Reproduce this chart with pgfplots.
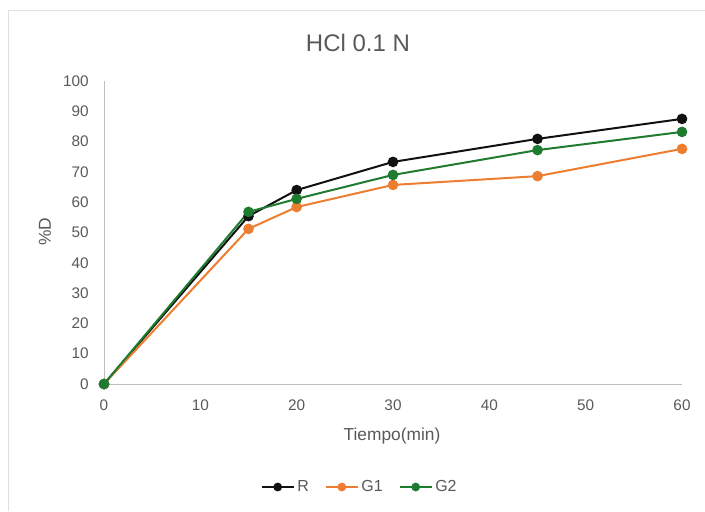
\documentclass[border=0pt]{standalone}
\usepackage{pgfplots}
\pgfplotsset{compat=1.18}
\usepackage{fontspec}
\setmainfont{Liberation Sans}
\definecolor{txt}{HTML}{595959}
\definecolor{axgray}{HTML}{BFBFBF}
\definecolor{cR}{HTML}{111111}
\definecolor{cG1}{HTML}{ED7D31}
\definecolor{cG2}{HTML}{1E7B30}
\begin{document}
\begin{tikzpicture}
\useasboundingbox (-78pt,-95.25pt) rectangle (450.75pt,288pt);
\draw[draw=gray!25, line width=0.6pt] (-72pt,-95.25pt) -- (-72pt,280.5pt) -- (450.75pt,280.5pt);
\begin{axis}[
  at={(0pt,0pt)}, anchor=origin,
  scale only axis, width=433.5pt, height=227.25pt,
  xmin=0, xmax=60, ymin=0, ymax=100,
  xtick={0,10,20,30,40,50,60},
  ytick={0,10,...,100},
  axis x line*=bottom, axis y line*=left,
  axis line style={draw=axgray, line width=0.6pt, -},
  major tick length=0pt,
  tick label style={font=\fontsize{11.5pt}{13pt}\selectfont, text=txt},
  /pgf/number format/assume math mode=true,
  yticklabel style={xshift=-8pt},
  xticklabel style={yshift=-8pt},
  clip=false,
  legend style={at={(0.443,-0.34)}, anchor=center, draw=none, legend columns=3,
    font=\fontsize{12pt}{14pt}\selectfont, text=txt,
    /tikz/every even column/.append style={column sep=10pt}},
  legend image code/.code={\draw[mark repeat=2,mark phase=2, mark size=2.5pt] plot coordinates {(0cm,0cm) (0.42cm,0cm) (0.84cm,0cm)};},
  every axis plot/.append style={line width=1.5pt, mark=*, mark size=3.2pt, mark options={solid}},
]
\addplot[color=cR] coordinates {(0,0) (15,55.4) (20,64.0) (30,73.3) (45,80.9) (60,87.5)};
\addplot[color=cG1] coordinates {(0,0) (15,51.2) (20,58.4) (30,65.7) (45,68.6) (60,77.6)};
\addplot[color=cG2] coordinates {(0,0) (15,56.8) (20,61.1) (30,69.0) (45,77.2) (60,83.2)};
\legend{R,G1,G2}
\end{axis}
\node[text=txt, font=\fontsize{18pt}{20pt}\selectfont] at (190.5pt,255.75pt) {HCl 0.1 N};
\node[text=txt, font=\fontsize{13pt}{15pt}\selectfont] at (216pt,-39pt) {Tiempo(min)};
\node[text=txt, font=\fontsize{13pt}{15pt}\selectfont, rotate=90] at (-44.25pt,114pt) {\%D};
\end{tikzpicture}
\end{document}
